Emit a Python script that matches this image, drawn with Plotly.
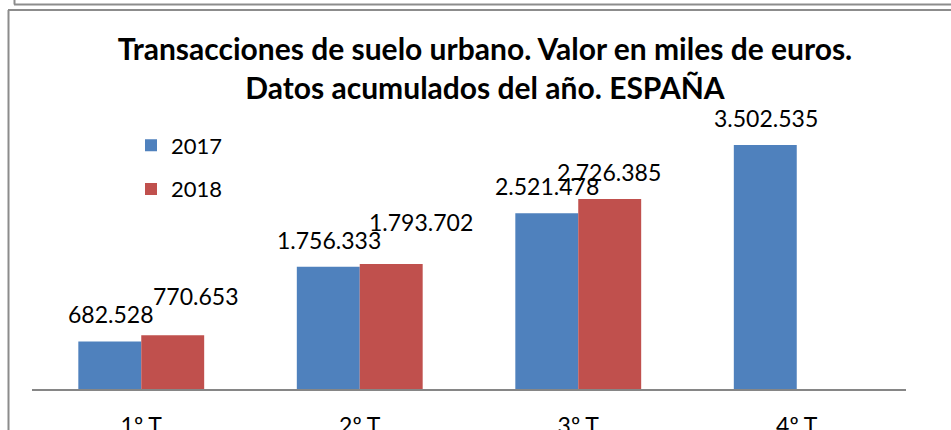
import plotly.graph_objects as go

categories = ["1º T", "2º T", "3º T", "4º T"]
values_2017 = [682528, 1756333, 2521478, 3502535]
values_2018 = [770653, 1793702, 2726385]
labels_2017 = ["682.528", "1.756.333", "2.521.478", "3.502.535"]
labels_2018 = ["770.653", "1.793.702", "2.726.385"]

BLUE = "#4F81BD"
RED = "#C0504D"
FONT = "Lato"

fig = go.Figure()
fig.add_trace(go.Bar(name="2017", x=categories, y=values_2017, marker_color=BLUE,
                     marker_line_width=0, legendgroup="a"))
fig.add_trace(go.Bar(name="2018", x=categories[:len(values_2018)], y=values_2018,
                     marker_color=RED, marker_line_width=0, legendgroup="b"))

# data labels (positioned via the axes' scales)
shift_2017 = [(-31, 27)] * 4
shift_2018 = [(54, 39), (61, 42), (31, 27)]
ann = []
for c, v, t, (dx, dy) in zip(categories, values_2017, labels_2017, shift_2017):
    ann.append(dict(x=c, y=v, text=t, xshift=dx, yshift=dy, showarrow=False,
                    xanchor="center", yanchor="middle",
                    font=dict(family=FONT, size=23, color="#000")))
for c, v, t, (dx, dy) in zip(categories, values_2018, labels_2018, shift_2018):
    ann.append(dict(x=c, y=v, text=t, xshift=dx, yshift=dy, showarrow=False,
                    xanchor="center", yanchor="middle",
                    font=dict(family=FONT, size=23, color="#000")))

L, R, T, B = 32, 45, 96, 41
W, H = 951, 430
pw, ph = W - L - R, H - T - B

def px(x):
    return (x - L) / pw

def py(y):
    return (H - B - y) / ph

frame = "#8c8c8c"
shapes = [
    dict(type="line", xref="paper", yref="paper", x0=px(14), x1=px(970), y0=py(4.5), y1=py(4.5),
         line=dict(color=frame, width=2)),
    dict(type="line", xref="paper", yref="paper", x0=px(14.5), x1=px(14.5), y0=py(-5), y1=py(4.5),
         line=dict(color=frame, width=2)),
    dict(type="line", xref="paper", yref="paper", x0=px(8), x1=px(970), y0=py(10), y1=py(10),
         line=dict(color=frame, width=2)),
    dict(type="line", xref="paper", yref="paper", x0=px(8.5), x1=px(8.5), y0=py(10), y1=py(445),
         line=dict(color=frame, width=2)),
]

fig.update_layout(
    width=W, height=H,
    margin=dict(l=L, r=R, t=T, b=B, autoexpand=False),
    paper_bgcolor="white", plot_bgcolor="white",
    barmode="group", bargap=0.424, bargroupgap=0,
    title=dict(text="Transacciones de suelo urbano. Valor en miles de euros.<br>Datos acumulados del año. ESPAÑA",
               x=485 / W, xanchor="center", xref="container",
               y=1 - 60 / H, yanchor="top", yref="container",
               font=dict(family=FONT, size=30, color="#000", weight="bold")),
    legend=dict(x=px(131), y=py(124.5), xanchor="left", yanchor="top",
                font=dict(family=FONT, size=22, color="#000"),
                bgcolor="rgba(0,0,0,0)", tracegroupgap=12, traceorder="grouped"),
    annotations=ann,
    shapes=shapes,
    xaxis=dict(showline=True, linecolor="#868686", linewidth=1.5, ticks="",
               tickfont=dict(family=FONT, size=23, color="#000"), automargin=False,
               ticklabelstandoff=16, showgrid=False, zeroline=False, fixedrange=True),
    yaxis=dict(range=[0, 4206000], visible=False, showgrid=False, zeroline=False,
               automargin=False, fixedrange=True),
)

fig.write_html("out.html", config={"displayModeBar": False},
               post_script="document.body.style.margin='0';document.body.style.overflow='hidden';")
